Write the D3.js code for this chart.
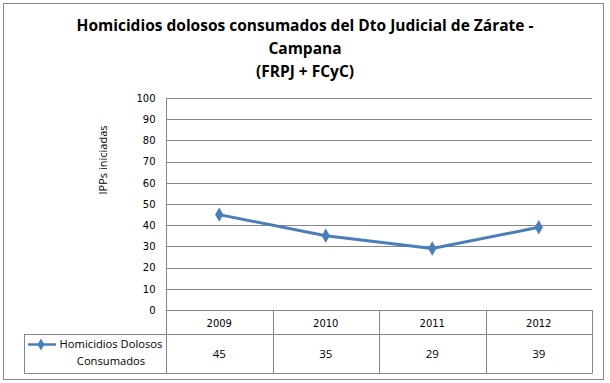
<!DOCTYPE html>
<html><head><meta charset="utf-8">
<script src="https://cdn.jsdelivr.net/npm/d3@7"></script>
<style>body{margin:0;background:#fff}svg{display:block}</style>
</head><body>
<svg id="c" width="610" height="383"></svg>
<script>
const titleLines = ["Homicidios dolosos consumados del Dto Judicial de  Zárate -", "Campana", "(FRPJ + FCyC)"];
const years = ["2009", "2010", "2011", "2012"];
const values = [45, 35, 29, 39];
const seriesName = ["Homicidios Dolosos", "Consumados"];
const yTicks = [0, 10, 20, 30, 40, 50, 60, 70, 80, 90, 100];
const yTitle = "IPPs iniciadas";

const svg = d3.select("#c");
const blue = "#4a7ebb", grid = "#868686";
const L = 166, R = 592, T = 98, B = 310;
const titleFont = "'Open Sans', 'Liberation Sans', sans-serif";
const tickFont = "'DejaVu Sans', Verdana, sans-serif";

svg.append("rect").attr("x", 3.5).attr("y", 3.5).attr("width", 600).attr("height", 376)
  .attr("fill", "#fff").attr("stroke", "#888").attr("stroke-width", 1);

const tg = svg.append("g");
titleLines.forEach((t, i) => {
  tg.append("text").attr("x", 305).attr("y", 31 + i * 23).attr("text-anchor", "middle")
    .attr("font-family", titleFont).attr("font-weight", "bold").attr("font-size", 15.5)
    .attr("fill", "#000").text(t);
});

const x = d3.scaleBand().domain(years).range([L, R]).padding(0);
const y = d3.scaleLinear().domain([0, 100]).range([B, T]);

// gridlines
svg.append("g").selectAll("line").data(yTicks).join("line")
  .attr("x1", L).attr("x2", R).attr("y1", d => Math.round(y(d)) + 0.5).attr("y2", d => Math.round(y(d)) + 0.5)
  .attr("stroke", grid).attr("stroke-width", 1);

// y axis
const yAxis = d3.axisLeft(y).tickValues(yTicks).tickSize(0).tickPadding(11);
const ya = svg.append("g").attr("transform", `translate(${L + 0.5},0)`).call(yAxis);
ya.select(".domain").attr("stroke", grid).attr("d", `M0,${T}V${B}`);
ya.selectAll("text").attr("font-family", tickFont).attr("font-size", 10).attr("fill", "#000");

svg.append("text").attr("transform", `translate(107,160) rotate(-90)`)
  .attr("text-anchor", "middle").attr("font-family", titleFont).attr("font-size", 11)
  .attr("fill", "#000").text(yTitle);

// table
const rowTop = 311, rowMid = 334, rowBot = 373, legL = 24;
const tbl = svg.append("g").attr("stroke", grid).attr("stroke-width", 1).attr("fill", "none");
tbl.append("path").attr("d", `M${L + 0.5},${B}V${rowBot + 0.5}M${L},${rowMid + 0.5}H${R + 0.5}M${legL + 0.5},${rowMid + 0.5}H${L}M${legL + 0.5},${rowMid}V${rowBot + 0.5}H${R + 0.5}M${R + 0.5},${B}V${rowBot + 0.5}M${L},${B + 0.5}H${R}`);
years.forEach(yr => {
  const xs = Math.round(x(yr)) + 0.5;
  if (x(yr) > L + 1) tbl.append("line").attr("x1", xs).attr("x2", xs).attr("y1", B).attr("y2", rowBot);
});

svg.append("g").selectAll("text").data(years).join("text")
  .attr("x", d => x(d) + x.bandwidth() / 2).attr("y", 326.5).attr("text-anchor", "middle")
  .attr("font-family", tickFont).attr("font-size", 10).attr("fill", "#000").text(d => d);

svg.append("g").selectAll("text").data(values).join("text")
  .attr("x", (d, i) => x(years[i]) + x.bandwidth() / 2).attr("y", 358).attr("text-anchor", "middle")
  .attr("font-family", titleFont).attr("font-size", 11.5).attr("fill", "#000").text(d => d);

// legend
const lg = svg.append("g");
lg.append("line").attr("x1", 28).attr("x2", 56).attr("y1", 344.5).attr("y2", 344.5)
  .attr("stroke", blue).attr("stroke-width", 2.5);
lg.append("path").attr("d", d3.symbol(d3.symbolDiamond, 40)()).attr("transform", "translate(41,344.5)").attr("fill", blue);
seriesName.forEach((t, i) => {
  lg.append("text").attr("x", 111).attr("y", 348 + i * 17).attr("text-anchor", "middle")
    .attr("font-family", titleFont).attr("font-size", 11.2).attr("fill", "#000").text(t);
});

// line
const line = d3.line().x((d, i) => x(years[i]) + x.bandwidth() / 2).y(d => y(d));
svg.append("path").datum(values).attr("d", line).attr("fill", "none")
  .attr("stroke", blue).attr("stroke-width", 3).attr("stroke-linejoin", "round");
svg.append("g").selectAll("path").data(values).join("path")
  .attr("d", d3.symbol(d3.symbolDiamond, 60)())
  .attr("transform", (d, i) => `translate(${x(years[i]) + x.bandwidth() / 2},${y(d)})`)
  .attr("fill", blue);
</script>
</body></html>
